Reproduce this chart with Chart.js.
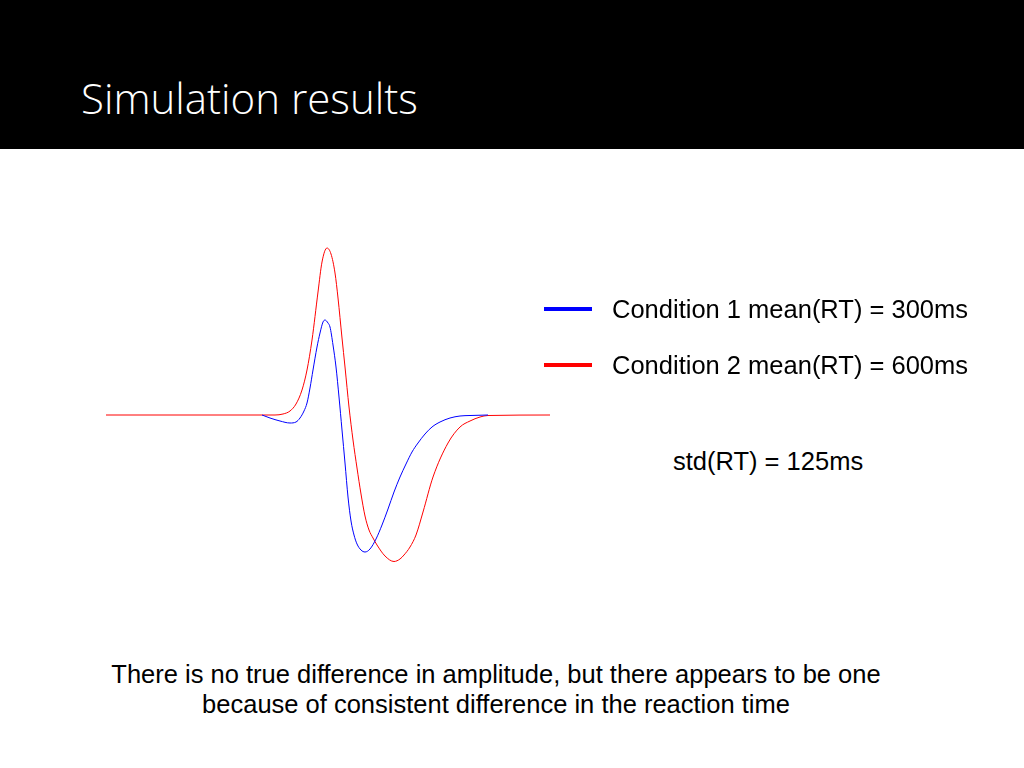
<!DOCTYPE html>
<html>
<head>
<meta charset="utf-8">
<script src="https://cdn.jsdelivr.net/npm/chart.js@4"></script>
<style>
  html, body { margin: 0; padding: 0; background: #fff; }
  #slide { position: relative; width: 1024px; height: 768px; overflow: hidden; background: #fff; }
  #header { position: absolute; left: 0; top: 0; width: 1024px; height: 149px; background: #000; }
  #title { position: absolute; left: 81px; top: 77px; color: #fff; font-family: "Open Sans", sans-serif; font-weight: 300; font-size: 42px; line-height: 1; white-space: nowrap; }
  #plot { position: absolute; left: 106px; top: 230px; width: 444px; height: 350px; }
  .leg { position: absolute; left: 544px; width: 48px; height: 4px; }
  .txt { position: absolute; font-family: "Liberation Sans", Arial, sans-serif; font-size: 25.5px; color: #000; white-space: nowrap; line-height: 1; }
  #caption { position: absolute; left: 0; width: 992px; top: 659px; text-align: center; font-family: "Liberation Sans", Arial, sans-serif; font-size: 25.5px; line-height: 30px; color: #000; }
</style>
</head>
<body>
<div id="slide">
  <div id="header"></div>
  <div id="title">Simulation results</div>
  <div id="plot"><canvas id="c"></canvas></div>
  <div class="leg" style="top:307px;background:#0000ff"></div>
  <div class="txt" style="left:612px;top:297px">Condition 1 mean(RT) = 300ms</div>
  <div class="leg" style="top:363px;background:#ff0000"></div>
  <div class="txt" style="left:612px;top:353px">Condition 2 mean(RT) = 600ms</div>
  <div class="txt" style="left:673px;top:449px">std(RT) = 125ms</div>
  <div id="caption">There is no true difference in amplitude, but there appears to be one<br>because of consistent difference in the reaction time</div>
</div>
<script>
// time in ms, amplitude in arbitrary units
var cond1Time = [780, 820, 870, 920, 950, 970, 990, 1005, 1020, 1035, 1055, 1070, 1085, 1095, 1110, 1120, 1135, 1150, 1165, 1180, 1195, 1210, 1225, 1240, 1255, 1275, 1295, 1320, 1350, 1380, 1410, 1440, 1470, 1500, 1530, 1560, 1595, 1630, 1670, 1720, 1770, 1820, 1910];
var cond1Amp  = [0, -0.3, -0.6, -0.8, -0.7, -0.3, 0.4, 1.2, 2.7, 4.5, 6.8, 8.2, 9.3, 9.5, 9.2, 8.8, 7.0, 4.8, 1.8, -1.5, -4.8, -8.2, -10.6, -12.0, -12.9, -13.5, -13.7, -13.4, -12.4, -11.0, -9.4, -7.7, -6.2, -4.9, -3.7, -2.8, -1.9, -1.2, -0.7, -0.3, -0.1, -0.05, 0];

var cond2Time = [0, 845, 885, 920, 950, 980, 1005, 1030, 1060, 1080, 1105, 1125, 1145, 1160, 1180, 1195, 1215, 1235, 1255, 1275, 1295, 1315, 1335, 1355, 1395, 1440, 1470, 1490, 1520, 1550, 1585, 1635, 1710, 1770, 1820, 1870, 1910, 2220];
var cond2Amp  = [0, 0, 0.1, 0.4, 1.1, 2.5, 4.5, 7.5, 12.3, 15.3, 16.7, 16.1, 14.2, 11.7, 7.7, 4.8, 0.8, -2.5, -5.3, -7.9, -10.1, -11.5, -12.3, -13.0, -14.1, -14.65, -14.4, -14.0, -13.2, -12.0, -9.7, -6.2, -2.8, -1.2, -0.6, -0.2, -0.05, 0];

function pts(t, a) {
  return t.map(function (x, i) { return { x: x, y: a[i] }; });
}

var ctx = document.getElementById('c').getContext('2d');
new Chart(ctx, {
  type: 'line',
  data: {
    datasets: [
      {
        label: 'Condition 1 mean(RT) = 300ms',
        data: pts(cond1Time, cond1Amp),
        borderColor: '#0000ff',
        borderWidth: 1,
        pointRadius: 0,
        cubicInterpolationMode: 'monotone',
        fill: false
      },
      {
        label: 'Condition 2 mean(RT) = 600ms',
        data: pts(cond2Time, cond2Amp),
        borderColor: '#ff0000',
        borderWidth: 1,
        pointRadius: 0,
        cubicInterpolationMode: 'monotone',
        fill: false
      }
    ]
  },
  options: {
    responsive: true,
    maintainAspectRatio: false,
    animation: false,
    layout: { padding: 0 },
    plugins: { legend: { display: false }, tooltip: { enabled: false } },
    scales: {
      x: { type: 'linear', min: 0, max: 2220, display: false },
      y: { min: -16.5, max: 18.5, display: false }
    }
  }
});
</script>
</body>
</html>
